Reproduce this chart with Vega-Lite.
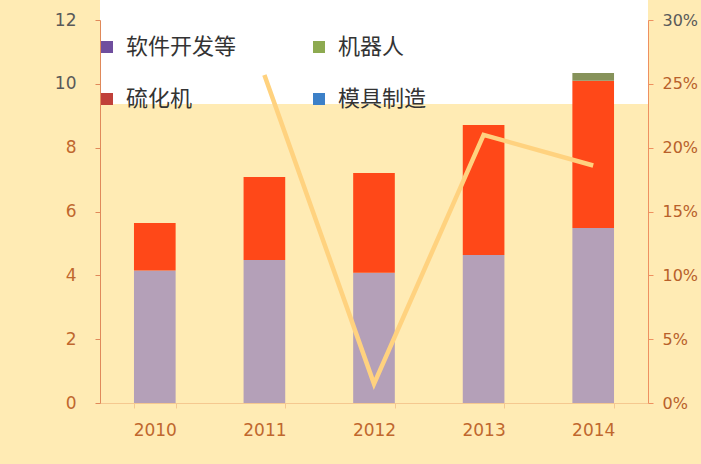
{
  "$schema": "https://vega.github.io/schema/vega-lite/v6.json",
  "width": 548,
  "height": 383,
  "autosize": "none",
  "padding": {"left": 100, "top": 20, "right": 53, "bottom": 61},
  "background": "#FFEBB4",
  "config": {"view": {"stroke": null}, "font": "DejaVu Sans"},
  "datasets": {
    "bars": [
      {"year": "2010", "cat": "模具制造", "val": 4.15},
      {"year": "2010", "cat": "硫化机", "val": 1.49},
      {"year": "2011", "cat": "模具制造", "val": 4.48},
      {"year": "2011", "cat": "硫化机", "val": 2.6},
      {"year": "2012", "cat": "模具制造", "val": 4.08},
      {"year": "2012", "cat": "硫化机", "val": 3.13},
      {"year": "2013", "cat": "模具制造", "val": 4.64},
      {"year": "2013", "cat": "硫化机", "val": 4.07},
      {"year": "2014", "cat": "模具制造", "val": 5.48},
      {"year": "2014", "cat": "硫化机", "val": 4.62},
      {"year": "2014", "cat": "软件开发等", "val": 0.24}
    ],
    "growth": [
      {"year": "2011", "g": 0.257},
      {"year": "2012", "g": 0.015},
      {"year": "2013", "g": 0.21},
      {"year": "2014", "g": 0.186}
    ],
    "cats": [
      {"cat": "软件开发等"},
      {"cat": "机器人"},
      {"cat": "硫化机"},
      {"cat": "模具制造"}
    ]
  },
  "layer": [
    {
      "layer": [
        {
          "data": {"values": [{}]},
          "mark": {"type": "rect", "color": "#FFFFFF"},
          "encoding": {
            "y": {"datum": 9.37, "type": "quantitative", "scale": {"domain": [0, 12]},
              "axis": {"values": [0, 2, 4, 6, 8, 10, 12], "grid": false, "title": null, "zindex": 1,
                "domainColor": "#E0895A", "tickColor": "#E0895A", "tickSize": 5,
                "labelFontSize": 17, "labelPadding": 19,
                "labelColor": {"condition": {"test": "datum.value >= 10", "value": "#595959"}, "value": "#C0672E"}}},
            "y2": {"datum": 13}
          }
        },
        {
          "data": {"name": "bars"},
          "mark": {"type": "bar"},
          "encoding": {
            "x": {"field": "year", "type": "ordinal",
              "scale": {"paddingInner": 0.62, "paddingOuter": 0.31},
              "axis": {"labelAngle": 0, "title": null, "labelFontSize": 17, "labelColor": "#C0672E",
                "labelPadding": 14, "tickBand": "extent", "tickSize": 5, "tickColor": "#F5C890",
                "domainColor": "#F5C890", "zindex": 1}},
            "y": {"field": "val", "type": "quantitative", "stack": "zero", "scale": {"domain": [0, 12]},
              "axis": {"values": [0, 2, 4, 6, 8, 10, 12], "grid": false, "title": null, "zindex": 1,
                "domainColor": "#E0895A", "tickColor": "#E0895A", "tickSize": 5,
                "labelFontSize": 17, "labelPadding": 19,
                "labelColor": {"condition": {"test": "datum.value >= 10", "value": "#595959"}, "value": "#C0672E"}}},
            "color": {"field": "cat", "type": "nominal",
              "scale": {"domain": ["软件开发等", "机器人", "硫化机", "模具制造"],
                "range": ["#86925A", "#8A9A50", "#FF4818", "#B4A0B8"]},
              "legend": null},
            "order": {"field": "cat", "sort": "ascending"}
          }
        }
      ]
    },
    {
      "data": {"name": "growth"},
      "mark": {"type": "line", "color": "#FFD27F", "strokeWidth": 4.5, "clip": true},
      "encoding": {
        "x": {"field": "year", "type": "ordinal"},
        "y": {"field": "g", "type": "quantitative", "scale": {"domain": [0, 0.3]},
          "axis": {"orient": "right", "values": [0, 0.05, 0.1, 0.15, 0.2, 0.25, 0.3], "format": ".0%",
            "grid": false, "title": null, "zindex": 1, "domainColor": "#EE9060", "tickColor": "#EE9060",
            "tickSize": 5, "labelFontSize": 16, "labelPadding": 9,
            "labelColor": {"condition": {"test": "datum.value >= 0.28", "value": "#595959"}, "value": "#B8602A"}}}
      }
    },
    {
      "data": {"name": "cats"},
      "mark": {"type": "square", "opacity": 0},
      "encoding": {
        "color": {"field": "cat", "type": "nominal",
          "scale": {"domain": ["软件开发等", "硫化机", "机器人", "模具制造"],
            "range": ["#6F4E9E", "#C0403A", "#8DAA50", "#3C80C8"]},
          "legend": {"orient": "none", "legendX": -4, "legendY": 16, "columns": 2, "title": null,
            "symbolType": "square", "symbolSize": 144, "symbolOpacity": 1, "symbolStrokeWidth": 0,
            "labelFont": "Noto Sans CJK SC", "labelFontSize": 22, "labelColor": "#333333",
            "labelOffset": 8, "rowPadding": 30, "columnPadding": 71, "padding": 0, "labelLimit": 300}}
      }
    }
  ],
  "resolve": {"scale": {"y": "independent", "color": "independent"}}
}
